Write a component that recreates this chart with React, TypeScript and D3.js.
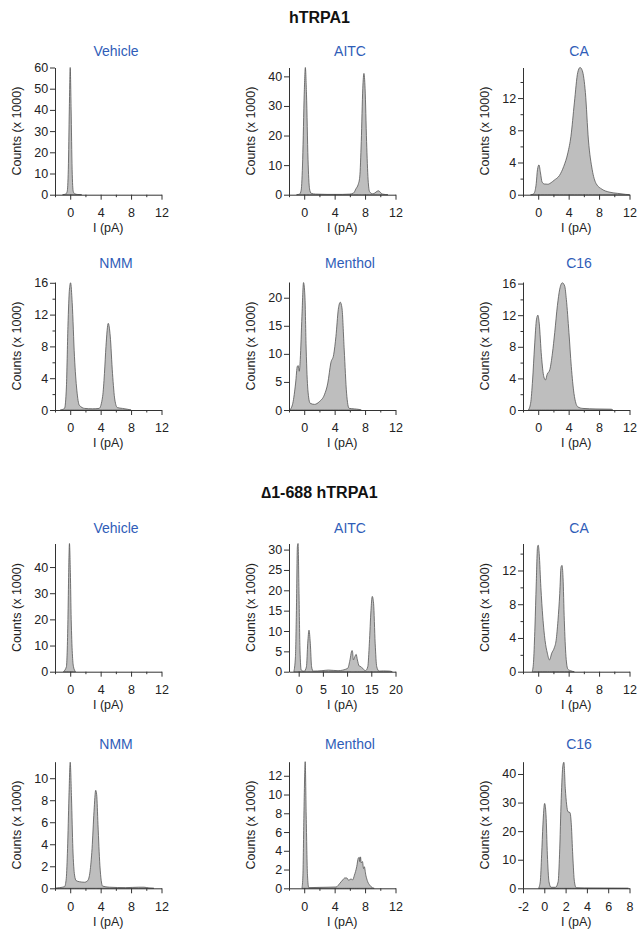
import { useRef, useEffect } from "react";
import * as d3 from "d3";

const groupTitles = ["hTRPA1", "\u22061-688 hTRPA1"];
const panelTitles = ["Vehicle", "AITC", "CA", "NMM", "Menthol", "C16", "Vehicle", "AITC", "CA", "NMM", "Menthol", "C16"];

// histogram points: [I (pA), counts (x 1000)]
const vehicleWT = [[-1, 0], [-0.6, 0.3], [-0.4, 1.5], [-0.25, 12], [-0.12, 40], [0, 60], [0.12, 40], [0.25, 12], [0.4, 1.5], [0.6, 0.4], [1, 0.1], [1.5, 0]];
const aitcWT = [[-1, 0], [-0.6, 0.2], [-0.4, 1.5], [-0.2, 12], [0, 34], [0.15, 43], [0.3, 34], [0.5, 12], [0.7, 2], [0.9, 0.5], [1.5, 0.2], [3, 0.1], [5, 0.1], [6, 0.2], [6.5, 0.6], [6.8, 2], [7.1, 3.5], [7.3, 6], [7.5, 18], [7.7, 36], [7.85, 41], [8, 36], [8.2, 18], [8.4, 5], [8.6, 1], [9, 0.3], [9.3, 0.6], [9.6, 1.2], [9.8, 1.3], [10, 0.8], [10.3, 0.2], [11, 0]];
const caWT = [[-1, 0], [-0.7, 0.05], [-0.5, 0.25], [-0.26, 1.4], [-0.1, 3.1], [0.1, 3.7], [0.3, 2.7], [0.5, 1.6], [0.8, 1.33], [1.26, 1.3], [1.7, 1.5], [2.1, 1.8], [2.8, 2.4], [3.35, 3.5], [3.9, 5.2], [4.3, 7.25], [4.75, 11.4], [5.2, 15.2], [5.5, 15.8], [5.8, 15.4], [6.2, 12.7], [6.6, 6.8], [7.1, 3.1], [7.6, 1.4], [8.4, 0.67], [9.3, 0.33], [10.4, 0.17], [11.5, 0.04], [12, 0]];
const nmmWT = [[-1.3, 0], [-0.75, 0.2], [-0.5, 2.9], [-0.3, 10.5], [-0.1, 15.2], [0.05, 16], [0.26, 13.5], [0.56, 6.7], [0.87, 2.5], [1.2, 0.6], [1.9, 0.2], [2.95, 0.15], [3.8, 0.2], [4.26, 1.7], [4.5, 4.6], [4.7, 8], [5.0, 10.9], [5.26, 9.3], [5.56, 4.6], [5.87, 1.26], [6.2, 0.3], [6.87, 0.2], [7.5, 0.1], [8, 0]];
const mentholWT = [[-1.9, 0], [-1.5, 1.2], [-1.13, 4.8], [-0.9, 7.8], [-0.78, 7.9], [-0.65, 6.9], [-0.52, 9], [-0.3, 16.7], [-0.09, 22.7], [0.09, 20.3], [0.26, 10.7], [0.48, 3.6], [0.78, 1.2], [1.35, 1.0], [2.0, 1.5], [2.65, 2.7], [3.1, 4.8], [3.5, 8.4], [3.87, 9.85], [4.17, 13.1], [4.48, 17.9], [4.74, 19.2], [4.96, 18.2], [5.26, 10.7], [5.57, 3], [5.9, 0.3], [6.57, 0.2], [7.2, 0.1], [7.5, 0]];
const c16WT = [[-1.3, 0], [-1.0, 0.85], [-0.74, 3.8], [-0.48, 8.1], [-0.22, 11.5], [-0.04, 12], [0.13, 11], [0.43, 6.8], [0.74, 4.2], [0.96, 3.8], [1.17, 4.5], [1.52, 5.1], [1.87, 7.2], [2.17, 9.8], [2.52, 13.2], [2.83, 15.3], [3.17, 16.1], [3.48, 15.7], [3.7, 14], [4.04, 9.8], [4.35, 5.5], [4.7, 2.1], [5.2, 0.4], [5.87, 0.2], [7.6, 0.13], [9.6, 0.1], [9.8, 0]];

const vehicleDel = [[-0.9, 0], [-0.5, 1.9], [-0.3, 20], [-0.2, 38], [-0.1, 49], [0.02, 38], [0.13, 20], [0.43, 1.9], [0.7, 0]];
const aitcDel = [[-1.0, 0], [-0.67, 3.7], [-0.47, 15], [-0.27, 30.7], [-0.13, 31.5], [0.07, 19.2], [0.27, 5.3], [0.53, 0.4], [1.13, 0.1], [1.6, 1.2], [1.87, 7], [2.13, 10.2], [2.4, 7], [2.67, 1.2], [3.0, 0.15], [4.8, 0.25], [6.13, 0.4], [8.13, 0.25], [10.1, 0.8], [10.6, 2.9], [10.9, 4.9], [11.03, 5.2], [11.13, 4.9], [11.3, 2.9], [11.6, 3.7], [11.87, 4.25], [12.13, 2.9], [12.5, 1.4], [12.9, 1.2], [13.3, 0.7], [13.8, 0.25], [14.27, 1.2], [14.6, 7], [14.93, 15], [15.2, 18.5], [15.47, 16.8], [15.8, 7], [16.13, 1.2], [16.6, 0.15], [17.5, 0.2], [18.8, 0.15], [19.33, 0]];
const caDel = [[-0.78, 0], [-0.6, 1.4], [-0.43, 5.3], [-0.26, 10.4], [-0.09, 14.8], [0, 15], [0.13, 14], [0.35, 10], [0.6, 6.5], [0.9, 3.7], [1.2, 2.2], [1.48, 1.4], [1.78, 2.2], [2.1, 2.8], [2.35, 3.7], [2.6, 6.1], [2.83, 9.25], [3.0, 12.4], [3.13, 12.6], [3.26, 11.2], [3.43, 6.1], [3.65, 1.8], [3.9, 0.3], [4.3, 0.1], [4.74, 0]];
const nmmDel = [[-2.0, 0], [-1.4, 0.06], [-0.74, 0.15], [-0.52, 0.9], [-0.35, 3.6], [-0.17, 8.2], [0, 11.45], [0.17, 8.2], [0.35, 3.6], [0.57, 1.2], [0.78, 0.7], [1.2, 0.6], [1.87, 0.55], [2.3, 0.7], [2.6, 1.5], [2.87, 3.6], [3.13, 7], [3.35, 8.9], [3.48, 8.5], [3.65, 5.8], [3.9, 2.1], [4.26, 0.2], [5.13, 0.1], [7.3, 0.06], [9.0, 0.1], [9.7, 0.1], [10.35, 0.03], [11, 0]];
const mentholDel = [[-0.3, 0], [-0.17, 1.4], [-0.04, 7.8], [0.13, 13.5], [0.26, 7.8], [0.43, 1.4], [0.6, 0.07], [2.06, 0.1], [4.2, 0.14], [4.65, 0.5], [5.07, 0.9], [5.33, 1.1], [5.6, 1.1], [5.85, 0.85], [6.15, 1.0], [6.37, 0.9], [6.6, 1.4], [6.9, 2.3], [7.1, 3.2], [7.23, 3.3], [7.3, 2.85], [7.4, 3.35], [7.5, 2.7], [7.66, 2.85], [7.8, 2.1], [7.9, 2.3], [8.1, 1.4], [8.35, 0.7], [8.6, 0.35], [8.95, 0.07], [9.2, 0]];
const c16Del = [[-0.54, 0], [-0.38, 2.3], [-0.25, 11.7], [-0.13, 22.2], [0.03, 29.7], [0.16, 25.7], [0.29, 11.7], [0.44, 2.3], [0.63, 0.35], [1.05, 0.35], [1.3, 2.3], [1.43, 11.7], [1.59, 31.5], [1.75, 43.1], [1.84, 44.1], [1.97, 35], [2.1, 29.2], [2.22, 26.8], [2.41, 26.5], [2.54, 22.2], [2.67, 11.7], [2.83, 2.3], [3.0, 0.2], [3.75, 0.1], [7.9, 0]];

const panelData = [vehicleWT, aitcWT, caWT, nmmWT, mentholWT, c16WT, vehicleDel, aitcDel, caDel, nmmDel, mentholDel, c16Del];

// axis settings per panel
const yMax = [60, 43, 15.8, 16.1, 22.8, 16.2, 49, 31.5, 15.2, 11.5, 13.5, 44.3];
const yStep = [10, 10, 4, 4, 5, 4, 10, 5, 4, 2, 2, 10];
const xMax = [12, 12, 12, 12, 12, 12, 12, 20, 12, 12, 12, 8];
const xStep = [4, 4, 4, 4, 4, 4, 4, 5, 4, 4, 4, 2];
const xFirstLabel = [0, 0, 0, 0, 0, 0, 0, 0, 0, 0, 0, -2];
const xMin = -2;

// layout
const colLeft = [55, 289, 523];
const plotW = 106.5;
const rowTop = [67.5, 282, 543.5, 761.7];
const rowBottom = [194.7, 410, 671.7, 888.3];
const titleY = [56, 268, 532.5, 749];
const titleX = [116, 350, 579];
const headerY = [23, 498];

const font = "'Liberation Sans', Arial, Helvetica, sans-serif";

export default function App() {
  const svgRef = useRef<SVGSVGElement>(null);

  useEffect(() => {
    const svg = d3.select(svgRef.current);
    svg.selectAll("*").remove();

    svg.selectAll(".header")
      .data(groupTitles)
      .join("text")
      .attr("x", 319.5)
      .attr("y", (d, i) => headerY[i])
      .attr("text-anchor", "middle")
      .attr("font-family", font)
      .attr("font-weight", "bold")
      .attr("font-size", 16)
      .attr("fill", "#111")
      .text(d => d);

    // plain hyphen for negatives, like the original figure
    const fmt = (d: d3.NumberValue) => String(d);

    panelData.forEach((data, i) => {
      const row = Math.floor(i / 3);
      const col = i % 3;
      const left = colLeft[col];

      const x = d3.scaleLinear().domain([xMin, xMax[i]]).range([left, left + plotW]);
      const y = d3.scaleLinear().domain([0, yMax[i]]).range([rowBottom[row], rowTop[row]]);

      const g = svg.append("g");

      const area = d3.area<number[]>()
        .x(d => x(d[0]))
        .y0(y(0))
        .y1(d => y(d[1]))
        .curve(d3.curveMonotoneX);

      g.append("path")
        .datum(data)
        .attr("d", area)
        .attr("fill", "#bebebe")
        .attr("stroke", "#555")
        .attr("stroke-width", 0.8);

      // ticks
      const xMajor = d3.range(xFirstLabel[i], xMax[i] + 0.001, xStep[i]);
      const xMinor = xStep[i] === 4 ? d3.range(xMin, xMax[i], xStep[i]) : [];
      const yMajor = d3.range(0, yMax[i] + 0.001, yStep[i]);
      const yMinor = yStep[i] === 4 ? d3.range(yStep[i] / 2, yMax[i], yStep[i]) : [];

      const xAxis = g.append("g")
        .attr("transform", `translate(0,${rowBottom[row]})`)
        .call(d3.axisBottom(x).tickValues(xMajor).tickSize(5).tickSizeOuter(0).tickPadding(8.5).tickFormat(fmt));
      g.append("g")
        .attr("transform", `translate(0,${rowBottom[row]})`)
        .call(d3.axisBottom(x).tickValues(xMinor).tickSize(2.5).tickFormat(() => ""))
        .call(a => a.select(".domain").remove());

      const yAxis = g.append("g")
        .attr("transform", `translate(${left},0)`)
        .call(d3.axisLeft(y).tickValues(yMajor).tickSize(5).tickSizeOuter(0).tickPadding(1.8).tickFormat(fmt));
      g.append("g")
        .attr("transform", `translate(${left},0)`)
        .call(d3.axisLeft(y).tickValues(yMinor).tickSize(2.5).tickFormat(() => ""))
        .call(a => a.select(".domain").remove());

      g.selectAll(".domain, .tick line").attr("stroke", "#333").attr("stroke-width", 1);
      [xAxis, yAxis].forEach(a => a.selectAll("text")
        .attr("font-family", font)
        .attr("font-size", 12.5)
        .attr("fill", "#222"));

      g.append("text")
        .attr("transform", `translate(${left - 37},${(rowTop[row] + rowBottom[row]) / 2}) rotate(-90)`)
        .attr("text-anchor", "middle")
        .attr("dominant-baseline", "middle")
        .attr("font-family", font)
        .attr("font-size", 12.5)
        .attr("fill", "#222")
        .text("Counts (x 1000)");

      g.append("text")
        .attr("x", left + plotW / 2)
        .attr("y", rowBottom[row] + 37.4)
        .attr("text-anchor", "middle")
        .attr("font-family", font)
        .attr("font-size", 12.5)
        .attr("fill", "#222")
        .text("I (pA)");

      g.append("text")
        .attr("x", titleX[col])
        .attr("y", titleY[row])
        .attr("text-anchor", "middle")
        .attr("font-family", font)
        .attr("font-size", 14)
        .attr("fill", "#2f5db8")
        .text(panelTitles[i]);
    });
  }, []);

  return (
    <svg ref={svgRef} width={639} height={931}
      style={{ position: "absolute", left: 0, top: 0, background: "#fff" }} />
  );
}
